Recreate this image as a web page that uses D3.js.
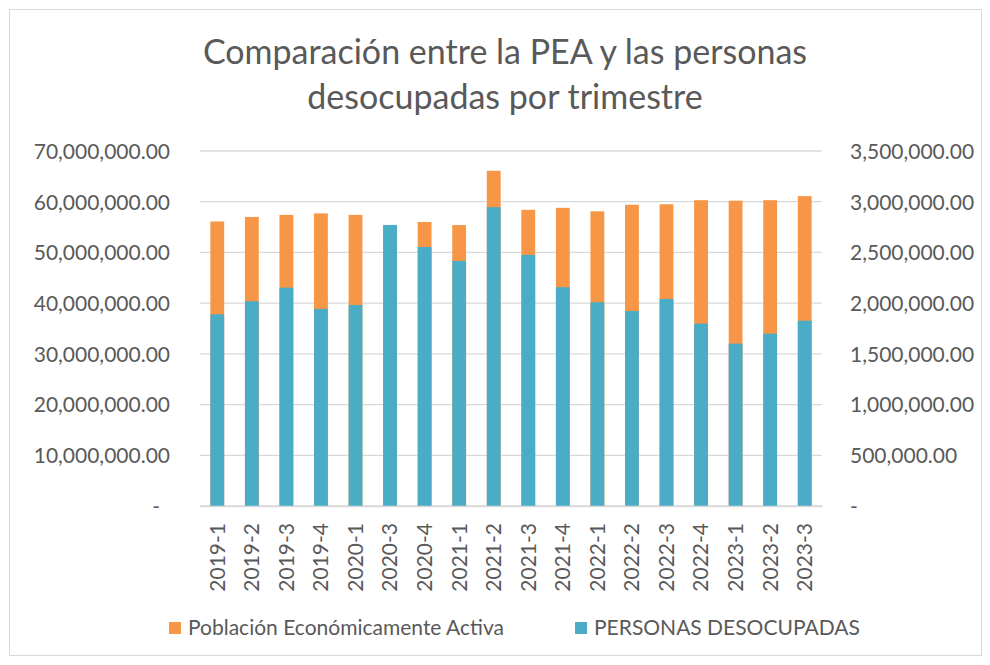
<!DOCTYPE html>
<html>
<head>
<meta charset="utf-8">
<script src="https://cdn.jsdelivr.net/npm/d3@7"></script>
<style>
  body { margin: 0; background: #fff; }
  text { font-family: Lato, "Open Sans", sans-serif; fill: #595959; }
</style>
</head>
<body>
<svg id="chart" width="990" height="665"></svg>
<script>
var width = 990;
var height = 665;

// trimestres
var categories = ["2019-1", "2019-2", "2019-3", "2019-4", "2020-1", "2020-3", "2020-4",
  "2021-1", "2021-2", "2021-3", "2021-4", "2022-1", "2022-2", "2022-3", "2022-4",
  "2023-1", "2023-2", "2023-3"];

// Población Económicamente Activa (eje izquierdo)
var pea = [56100000, 57000000, 57400000, 57700000, 57400000, 55200000, 56000000,
  55400000, 66100000, 58400000, 58800000, 58100000, 59400000, 59500000, 60300000,
  60200000, 60300000, 61100000];

// Personas desocupadas (eje derecho)
var desocupadas = [1890000, 2019000, 2153000, 1943000, 1982000, 2771000, 2554000,
  2416000, 2946000, 2475000, 2157000, 2009000, 1923000, 2041000, 1798000,
  1601000, 1699000, 1827000];

var leftTicks = [0, 10000000, 20000000, 30000000, 40000000, 50000000, 60000000, 70000000];
var rightTicks = [0, 500000, 1000000, 1500000, 2000000, 2500000, 3000000, 3500000];

var orange = "#F79646";
var blue = "#4BACC6";
var grid = "#d9d9d9";

var svg = d3.select("#chart");

var plot = {left: 200, right: 822, top: 151, bottom: 506};

var xScale = d3.scaleBand()
  .domain(categories)
  .range([plot.left, plot.right])
  .paddingInner(0.6)
  .paddingOuter(0.3);

var yLeft = d3.scaleLinear()
  .domain([0, 70000000])
  .range([plot.bottom, plot.top]);

var yRight = d3.scaleLinear()
  .domain([0, 3500000])
  .range([plot.bottom, plot.top]);

var fmt = d3.format(",.2f");
function tickFmt(d) { return d === 0 ? "-" : fmt(d); }

// chart frame
svg.append("rect")
  .attr("x", 9.5).attr("y", 9.5)
  .attr("width", 972).attr("height", 646)
  .attr("fill", "#fff")
  .attr("stroke", grid);

// title
var title = svg.append("text")
  .attr("text-anchor", "middle")
  .style("font-size", "34px");
title.append("tspan").attr("x", 505).attr("y", 64).text("Comparación entre la PEA y las personas");
title.append("tspan").attr("x", 505).attr("y", 109).text("desocupadas por trimestre");

// gridlines
svg.append("g")
  .selectAll("line")
  .data(leftTicks)
  .enter().append("line")
  .attr("x1", plot.left).attr("x2", plot.right)
  .attr("y1", function(d) { return yLeft(d); })
  .attr("y2", function(d) { return yLeft(d); })
  .attr("stroke", grid)
  .attr("stroke-width", 1.3);

// left axis
var leftAxis = d3.axisLeft(yLeft)
  .tickValues(leftTicks)
  .tickFormat(tickFmt)
  .tickSize(0)
  .tickPadding(30);

var gl = svg.append("g")
  .attr("transform", "translate(" + plot.left + ",0)")
  .call(leftAxis);
gl.select(".domain").remove();
gl.selectAll("text")
  .style("font-size", "21px")
  .attr("dy", "0.35em")
  .attr("dx", function(d) { return d === 0 ? -10 : 0; });

// right axis
var rightAxis = d3.axisRight(yRight)
  .tickValues(rightTicks)
  .tickFormat(tickFmt)
  .tickSize(0)
  .tickPadding(28);

var gr = svg.append("g")
  .attr("transform", "translate(" + plot.right + ",0)")
  .call(rightAxis);
gr.select(".domain").remove();
gr.selectAll("text")
  .style("font-size", "21px")
  .attr("dy", "0.35em");

// PEA bars (behind)
svg.append("g")
  .selectAll("rect")
  .data(pea)
  .enter().append("rect")
  .attr("x", function(d, i) { return xScale(categories[i]); })
  .attr("width", xScale.bandwidth())
  .attr("y", function(d) { return yLeft(d); })
  .attr("height", function(d) { return plot.bottom - yLeft(d); })
  .attr("fill", orange);

// desocupadas bars (front)
svg.append("g")
  .selectAll("rect")
  .data(desocupadas)
  .enter().append("rect")
  .attr("x", function(d, i) { return xScale(categories[i]); })
  .attr("width", xScale.bandwidth())
  .attr("y", function(d) { return yRight(d); })
  .attr("height", function(d) { return plot.bottom - yRight(d); })
  .attr("fill", blue);

// category axis
var xAxis = d3.axisBottom(xScale).tickSize(0).tickPadding(0);
var gx = svg.append("g")
  .attr("transform", "translate(0," + plot.bottom + ")")
  .call(xAxis);
gx.select(".domain")
  .attr("stroke", grid)
  .attr("stroke-width", 1.3);
gx.selectAll("text")
  .style("font-size", "21px")
  .attr("text-anchor", "end")
  .attr("transform", "rotate(-90)")
  .attr("x", -17)
  .attr("y", 0)
  .attr("dy", "0.35em");

// legend
var legendItems = [
  {label: "Población Económicamente Activa", color: orange, x: 169},
  {label: "PERSONAS DESOCUPADAS", color: blue, x: 575}
];
var legend = svg.append("g")
  .selectAll("g")
  .data(legendItems)
  .enter().append("g")
  .attr("transform", function(d) { return "translate(" + d.x + ",622)"; });
legend.append("rect")
  .attr("width", 12).attr("height", 12)
  .attr("fill", function(d) { return d.color; });
legend.append("text")
  .attr("x", 19).attr("y", 13)
  .style("font-size", "21px")
  .text(function(d) { return d.label; });
</script>
</body>
</html>
